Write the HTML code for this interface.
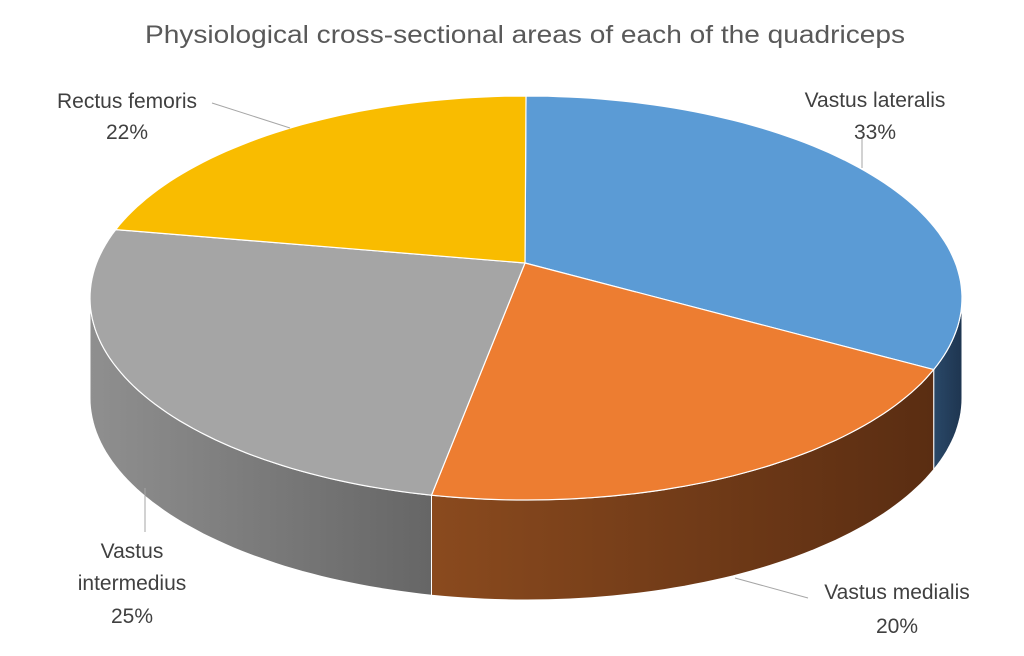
<!DOCTYPE html>
<html><head><meta charset="utf-8"><style>
body{margin:0;background:#fff}
svg text{font-family:"Liberation Sans",sans-serif}
</style></head><body>
<svg id="chart" width="1024" height="651" viewBox="0 0 1024 651" xmlns="http://www.w3.org/2000/svg">
<defs>
<linearGradient id="gVM" x1="0" x2="1" y1="0" y2="0"><stop offset="0" stop-color="#8a4a1e"/><stop offset="1" stop-color="#5a2d12"/></linearGradient>
<linearGradient id="gVI" x1="0" x2="1" y1="0" y2="0"><stop offset="0" stop-color="#8f8f8f"/><stop offset="1" stop-color="#666"/></linearGradient>
<linearGradient id="gVL" x1="0" x2="1" y1="0" y2="0"><stop offset="0" stop-color="#2a4868"/><stop offset="1" stop-color="#1e3550"/></linearGradient>
</defs>
<text x="525" y="43" text-anchor="middle" font-size="25" fill="#595959" textLength="760" lengthAdjust="spacingAndGlyphs">Physiological cross-sectional areas of each of the quadriceps</text>
<g id="sides"></g><g id="tops"></g>
<g stroke="#a6a6a6" stroke-width="1" fill="none">
<polyline points="862,137 862,168"/>
<polyline points="808,598 735,578"/>
<polyline points="145,532 145,488"/>
<polyline points="212,103 290,128"/>
</g>
<g font-size="21" fill="#404040" text-anchor="middle">
<text x="875" y="107">Vastus lateralis</text>
<text x="875" y="139">33%</text>
<text x="897" y="599">Vastus medialis</text>
<text x="897" y="633">20%</text>
<text x="132" y="558">Vastus</text>
<text x="132" y="590">intermedius</text>
<text x="132" y="623">25%</text>
<text x="127" y="108">Rectus femoris</text>
<text x="127" y="139">22%</text>
</g>
</svg>
<script>
const categories=["Vastus lateralis","Vastus medialis","Vastus intermedius","Rectus femoris"];
const values=[33,20,25,22];
const topColors=["#5b9bd5","#ed7d31","#a5a5a5","#f9bc00"];
const sideColors=["url(#gVL)","url(#gVM)","url(#gVI)","#b08400"];
const cx=526,cy=298,rx=436,ry=202,depth=100,ax=525,ay=263;
const NS="http://www.w3.org/2000/svg";
function warp(t){return t-0.16*Math.sin(t);}
function pt(t,d){return [cx+rx*Math.sin(t),cy-ry*Math.cos(t)+(d||0)];}
function arc(t0,t1,d){const n=Math.max(2,Math.ceil(Math.abs(t1-t0)*40));const a=[];for(let i=0;i<=n;i++){a.push(pt(t0+(t1-t0)*i/n,d));}return a;}
const total=values.reduce((a,b)=>a+b,0);
let cum=0;const sides=document.getElementById('sides'),tops=document.getElementById('tops');
values.forEach((v,i)=>{
 const t0=warp(cum/total*2*Math.PI);cum+=v;const t1=warp(cum/total*2*Math.PI);
 const s0=Math.max(t0,Math.PI/2),s1=Math.min(t1,1.5*Math.PI);
 const key=categories[i].toLowerCase().replace(/ /g,'-');
 if(s1>s0){
  const a=arc(s0,s1,0),b=arc(s1,s0,depth);
  const p=document.createElementNS(NS,'path');
  p.setAttribute('d','M'+a.concat(b).map(q=>q[0].toFixed(1)+','+q[1].toFixed(1)).join('L')+'Z');
  p.setAttribute('fill',sideColors[i]);p.setAttribute('stroke','#fff');p.setAttribute('stroke-width','1');
  
  
  sides.appendChild(p);
 }
 const a=arc(t0,t1,0);
 const p=document.createElementNS(NS,'path');
 p.setAttribute('d','M'+ax+','+ay+'L'+a.map(q=>q[0].toFixed(1)+','+q[1].toFixed(1)).join('L')+'Z');
 p.setAttribute('fill',topColors[i]);p.setAttribute('stroke','#fff');p.setAttribute('stroke-width','1.2');
 
 
 tops.appendChild(p);
});
</script>
</body></html>
